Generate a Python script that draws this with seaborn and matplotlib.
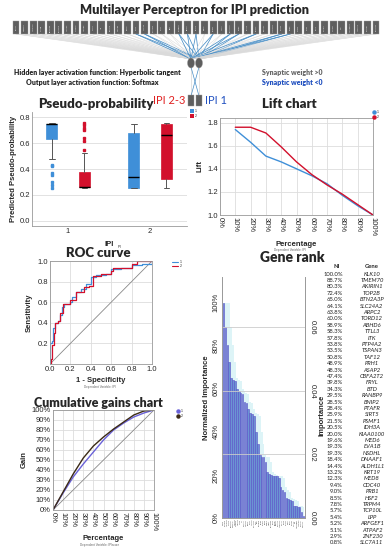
import numpy as np
import pandas as pd
import matplotlib
matplotlib.use("Agg")
import matplotlib.pyplot as plt
import seaborn as sns
from matplotlib.patches import Rectangle, Ellipse

# ------------------------------
# data
# ------------------------------
genes = ["KLK10", "TMEM70", "AKIRIN1", "TOP2B", "BTN2A3P", "SLC24A2", "ARPC2", "TORD12",
         "ABHD6", "TTLL3", "ITK", "PTP4A2", "TSPAN3", "TAF12", "PRH1", "ASAP2", "CBFA2T2",
         "FRYL", "BTD", "RANBP9", "BNIP2", "PTAFR", "SIRT5", "PSMF1", "IDH3A", "KIAA0100",
         "MED6", "EVA1B", "NSDHL", "DNAAF1", "ALDH1L1", "KRT19", "MED8", "CDC40", "PRB1",
         "HSF2", "TRPM4", "TCP10L", "LPP", "ARFGEF1", "ATPAF2", "ZNF230", "SLC7A11"]
ni = [100.0, 88.7, 80.3, 72.4, 65.0, 64.1, 63.8, 60.0, 58.9, 58.3, 57.8, 53.8, 53.5, 50.8,
      48.9, 48.3, 47.4, 39.8, 34.3, 29.5, 28.5, 28.4, 25.9, 21.5, 20.5, 20.0, 19.6, 19.3,
      19.3, 18.4, 14.4, 13.2, 12.3, 9.4, 9.0, 8.5, 7.8, 5.7, 5.4, 5.2, 5.1, 2.9, 0.8]
max_importance = 0.0677

# network: inputs with negative synaptic weight (blue lines)
neg_inputs = [14, 15, 19, 20, 21, 23, 25, 26, 28, 31, 32]

# pseudo-probability boxes: (IPI 1, cat 1), (IPI 1, cat 2), (IPI 2, cat 1), (IPI 2, cat 2)
box_pos = [0.8, 1.2, 1.8, 2.2]
box_med = [0.745, 0.26, 0.335, 0.665]
box_q1 = [0.63, 0.26, 0.25, 0.325]
box_q3 = [0.75, 0.375, 0.675, 0.75]
box_lo = [0.48, 0.255, 0.25, 0.255]
box_hi = [0.755, 0.52, 0.75, 0.755]
box_out = [[0.43, 0.42, 0.37, 0.35, 0.30, 0.28, 0.255],
           [0.55, 0.62, 0.64, 0.70, 0.72, 0.74, 0.755], [], []]

# lift chart
lift_pct = [10, 20, 30, 40, 50, 60, 70, 80, 90, 100]
lift_1 = [1.74, 1.63, 1.51, 1.46, 1.40, 1.34, 1.27, 1.17, 1.08, 1.00]
lift_2 = [1.76, 1.76, 1.71, 1.59, 1.46, 1.35, 1.26, 1.18, 1.09, 1.00]

# ROC curve
roc1_fpr = [0, 0, 0.02, 0.03, 0.05, 0.08, 0.10, 0.12, 0.14, 0.20, 0.22, 0.25, 0.30, 0.35,
            0.40, 0.45, 0.55, 0.60, 0.70, 0.80, 0.90, 1.0]
roc1_tpr = [0, 0.20, 0.22, 0.35, 0.40, 0.42, 0.48, 0.55, 0.58, 0.60, 0.65, 0.70, 0.73, 0.78,
            0.84, 0.86, 0.87, 0.92, 0.93, 0.96, 0.97, 1.0]
roc2_fpr = [0, 0.01, 0.02, 0.04, 0.05, 0.08, 0.10, 0.13, 0.20, 0.25, 0.33, 0.38, 0.42, 0.50,
            0.60, 0.62, 0.80, 0.85, 1.0]
roc2_tpr = [0, 0.05, 0.18, 0.30, 0.40, 0.42, 0.50, 0.58, 0.62, 0.70, 0.75, 0.76, 0.85, 0.87,
            0.90, 0.93, 0.97, 1.0, 1.0]

# cumulative gains
gain_pct = [0, 10, 20, 30, 40, 50, 60, 70, 80, 90, 100]
gain_1 = [0, 17, 33, 46, 58, 70, 80, 87, 93, 97, 100]
gain_2 = [0, 18, 36, 52, 64, 73, 81, 88, 95, 99, 100]

BLUE = "#3f8fd8"
RED = "#d2102c"
W, H = 388, 550

sns.set_style("white")
plt.rcParams["font.family"] = ["Liberation Sans", "DejaVu Sans"]

fig = plt.figure(figsize=(W / 100, H / 100), dpi=100)


def add_ax(l, t, r, b):
    return fig.add_axes([l / W, 1 - b / H, (r - l) / W, (b - t) / H])


def style(ax, size=5.5):
    ax.tick_params(labelsize=size, length=0, pad=1.5)
    for s in ax.spines.values():
        s.set_color("#999999")
        s.set_linewidth(0.6)


# ------------------------------
# Pseudo-probability boxplot
# ------------------------------
ax = add_ax(32, 112, 187, 226)
cols = [BLUE, RED, BLUE, RED]
for i in range(4):
    st = dict(med=box_med[i], q1=box_q1[i], q3=box_q3[i], whislo=box_lo[i],
              whishi=box_hi[i], fliers=box_out[i])
    ax.bxp([st], positions=[box_pos[i]], widths=0.14, patch_artist=True,
           boxprops=dict(facecolor=cols[i], edgecolor=cols[i], linewidth=0.5),
           medianprops=dict(color="black", linewidth=1.0),
           whiskerprops=dict(color="#555555", linewidth=0.7),
           capprops=dict(color="#555555", linewidth=0.7),
           flierprops=dict(marker="s", markersize=1.7, markerfacecolor=cols[i],
                           markeredgecolor=cols[i]))
ax.set_xlim(0.56, 2.45)
ax.set_ylim(-0.04, 0.84)
ax.set_xticks([1, 2])
ax.set_xticklabels(["1", "2"])
ax.set_yticks([0.0, 0.2, 0.4, 0.6, 0.8])
ax.set_yticklabels(["0.0", "0.2", "0.4", "0.6", "0.8"])
ax.yaxis.grid(True, color="#dddddd", linewidth=0.6)
ax.set_axisbelow(True)
for s in ["top", "right"]:
    ax.spines[s].set_visible(False)
style(ax)
ax.set_ylabel("Predicted Pseudo-probability", fontsize=5.5, fontweight="bold", labelpad=2)
ax.set_xlabel("IPI", fontsize=5.5, fontweight="bold", labelpad=4)

# ------------------------------
# Lift chart
# ------------------------------
ax = add_ax(220, 118, 373, 215)
lift_df = pd.DataFrame({"pct": lift_pct * 2, "lift": lift_1 + lift_2,
                        "cat": ["1"] * len(lift_pct) + ["2"] * len(lift_pct)})
sns.lineplot(data=lift_df, x="pct", y="lift", hue="cat", palette=[BLUE, RED],
             linewidth=1.0, legend=False, ax=ax)
ax.set_xlim(0, 100)
ax.set_ylim(1.0, 1.84)
ax.set_xticks(range(0, 101, 10))
ax.set_xticklabels([f"{v}%" for v in range(0, 101, 10)], rotation=-90)
ax.set_yticks([1.0, 1.2, 1.4, 1.6, 1.8])
ax.set_yticklabels(["1.0", "1.2", "1.4", "1.6", "1.8"])
ax.grid(True, color="#dddddd", linewidth=0.6)
style(ax)
ax.set_ylabel("Lift", fontsize=5.5, fontweight="bold", labelpad=3)
ax.set_xlabel("Percentage", fontsize=5.5, fontweight="bold", labelpad=3)

# ------------------------------
# ROC curve
# ------------------------------
ax = add_ax(50, 261, 152, 364)
roc_df = pd.DataFrame({"fpr": roc1_fpr + roc2_fpr, "tpr": roc1_tpr + roc2_tpr,
                       "cat": ["1"] * len(roc1_fpr) + ["2"] * len(roc2_fpr)})
ax.plot([0, 1], [0, 1], color="#888888", linewidth=0.6)
sns.lineplot(data=roc_df, x="fpr", y="tpr", hue="cat", palette=[BLUE, RED], sort=False,
             estimator=None, drawstyle="steps-post", linewidth=0.9, legend=False, ax=ax)
ax.set_xlim(0, 1)
ax.set_ylim(0, 1)
ax.set_xticks([0, 0.2, 0.4, 0.6, 0.8, 1.0])
ax.set_xticklabels(["0.0", "0.2", "0.4", "0.6", "0.8", "1.0"])
ax.set_yticks([0.2, 0.4, 0.6, 0.8, 1.0])
ax.set_yticklabels(["0.2", "0.4", "0.6", "0.8", "1.0"])
ax.grid(True, color="#dddddd", linewidth=0.6)
style(ax)
ax.set_ylabel("Sensitivity", fontsize=5.5, fontweight="bold", labelpad=3)
ax.set_xlabel("1 - Specificity", fontsize=5.5, fontweight="bold", labelpad=3)

# ------------------------------
# Cumulative gains chart
# ------------------------------
ax = add_ax(53, 410, 154, 510)
gain_df = pd.DataFrame({"pct": gain_pct * 2, "gain": gain_1 + gain_2,
                        "cat": ["1"] * len(gain_pct) + ["2"] * len(gain_pct)})
ax.plot([0, 100], [0, 100], color="#888888", linewidth=0.6)
sns.lineplot(data=gain_df, x="pct", y="gain", hue="cat", palette=["#6a62d8", "#3b2a16"],
             linewidth=1.0, legend=False, ax=ax)
ax.set_xlim(0, 100)
ax.set_ylim(0, 100)
ax.set_xticks(range(0, 101, 10))
ax.set_xticklabels([f"{v}%" for v in range(0, 101, 10)], rotation=-90)
ax.set_yticks(range(0, 101, 10))
ax.set_yticklabels([f"{v}%" for v in range(0, 101, 10)])
ax.grid(True, color="#dddddd", linewidth=0.6)
style(ax)
ax.set_ylabel("Gain", fontsize=5.5, fontweight="bold", labelpad=3)
ax.set_xlabel("Percentage", fontsize=5.5, fontweight="bold", labelpad=3)

# ------------------------------
# Gene rank
# ------------------------------
ax = add_ax(222, 277, 305, 518)
shade = [ni[max(i - 3, 0)] for i in range(len(ni))]
sns.barplot(x=genes, y=shade, color="#d9f7fb", width=1.0, linewidth=0, ax=ax)
sns.barplot(x=genes, y=ni, color="#5a90e4", width=0.85, edgecolor="#5a4fc8",
            linewidth=0.4, ax=ax)
ax.set_ylim(0, 112)
ax.set_xlim(-0.8, len(genes) - 0.2)
ax.set_yticks([0, 20, 40, 60, 80, 100])
ax.set_yticklabels(["0%", "20%", "40%", "60%", "80%", "100%"], rotation=90, va="center")
ax.set_xticks(range(len(genes)))
ax.set_xticklabels(genes, rotation=90)
ax.spines["top"].set_visible(False)
style(ax)
ax.tick_params(axis="x", labelsize=1.3, pad=1)
ax.set_ylabel("Normalized Importance", fontsize=5.5, fontweight="bold", labelpad=2)
ax2 = ax.twinx()
ax2.set_ylim(0, 112 * max_importance / 100)
ax2.set_yticks([0.0, 0.02, 0.04, 0.06])
ax2.set_yticklabels(["0.00", "0.02", "0.04", "0.06"], rotation=-90, va="center")
ax2.yaxis.grid(True, color="#cccccc", linewidth=0.6)
ax2.spines["top"].set_visible(False)
style(ax2)
ax2.tick_params(pad=3)

# ------------------------------
# overlay: network, titles, legends, table
# ------------------------------
bg = fig.add_axes([0, 0, 1, 1])
bg.set_xlim(0, W)
bg.set_ylim(H, 0)
bg.axis("off")
bg.patch.set_alpha(0)

n_in = len(genes)
in_x = np.linspace(16, 376, n_in)
hid_x = [191, 199]
out_x = [191, 199]
for i, x in enumerate(in_x):
    c, lw = ("#4a8fc6", 0.55) if i in neg_inputs else ("#dadada", 0.35)
    for hx in hid_x:
        bg.plot([x, hx], [34, 59], color=c, linewidth=lw, zorder=1)
bg.plot([hid_x[0], out_x[0]], [67, 96], color="#d4d4d4", linewidth=0.5, zorder=1)
bg.plot([hid_x[1], out_x[1]], [67, 96], color="#d4d4d4", linewidth=0.5, zorder=1)
bg.plot([hid_x[0], out_x[1]], [67, 96], color="#4a8fc6", linewidth=0.5, zorder=1)
bg.plot([hid_x[1], out_x[0]], [67, 96], color="#4a8fc6", linewidth=0.5, zorder=1)
for i, x in enumerate(in_x):
    bg.add_patch(Rectangle((x - 3.4, 21), 6.8, 13, facecolor="#5e5e5e", edgecolor="#9a9a9a",
                           linewidth=0.3, zorder=2))
    bg.text(x, 27.5, genes[i], rotation=90, fontsize=1.4, color="white", ha="center",
            va="center", zorder=3)
for hx in hid_x:
    bg.add_patch(Ellipse((hx, 63), 7, 10, facecolor="#5e5e5e", edgecolor="#9a9a9a",
                         linewidth=0.3, zorder=2))
for ox in out_x:
    bg.add_patch(Rectangle((ox - 3.4, 95), 6.8, 11, facecolor="#5e5e5e", edgecolor="#9a9a9a",
                           linewidth=0.3, zorder=2))

tf = dict(family=["Lato", "DejaVu Sans"], fontweight="heavy", ha="center", va="center")
bg.text(194, 10, "Multilayer Perceptron for IPI prediction", fontsize=9.2, **tf)
bg.text(97, 72, "Hidden layer activation function: Hyperbolic tangent", fontsize=5, **tf)
bg.text(92, 82, "Output layer activation function: Softmax", fontsize=5, **tf)
bg.text(292, 72, "Synaptic weight >0", fontsize=5, color="#666666", **tf)
bg.text(292, 82, "Synaptic weight <0", fontsize=5, color="#1f4fbf", **tf)
bg.text(169, 100, "IPI 2-3", fontsize=8, color="#e02020",
        family=["Lato", "DejaVu Sans"], ha="center", va="center")
bg.text(216, 100, "IPI 1", fontsize=8, color="#2050c0",
        family=["Lato", "DejaVu Sans"], ha="center", va="center")
bg.text(96, 104, "Pseudo-probability", fontsize=9.5, **tf)
bg.text(289, 104, "Lift chart", fontsize=9.5, **tf)
bg.text(98, 253, "ROC curve", fontsize=9.5, **tf)
bg.text(120, 246.5, "IPI", fontsize=2.5, color="#333333", ha="center", va="center")
bg.text(98, 403, "Cumulative gains chart", fontsize=9, **tf)
bg.text(292, 258, "Gene rank", fontsize=10, **tf)

dv = dict(fontsize=2.2, color="#666666", ha="center", va="center")
bg.text(290, 250, "Dependent Variable: IPI", **dv)
bg.text(100, 387, "Dependent Variable: IPI", **dv)
bg.text(100, 545, "Dependent Variable: IPIscore", **dv)

# small legends
for k, (c, lab) in enumerate([(BLUE, "1"), (RED, "2")]):
    y = 111 + k * 5
    bg.add_patch(Rectangle((190, y - 1.6), 3.6, 3.2, facecolor=c, edgecolor="none"))
    bg.text(195, y, lab, fontsize=2.5, va="center")
    bg.plot([374], [y + 1], marker="o", markersize=2.2, color=c)
    bg.text(376.5, y + 1, lab, fontsize=2.5, va="center")
    bg.plot([172, 178], [262 + k * 4] * 2, color=c, linewidth=0.8)
    bg.text(180, 262 + k * 4, lab, fontsize=2.5, va="center")
gcols = ["#6a62d8", "#3b2a16"]
for k in range(2):
    bg.plot([178], [411 + k * 5], marker="o", markersize=2.2, color=gcols[k])
    bg.text(180.5, 411 + k * 5, str(k + 1), fontsize=2.5, va="center")

# gene table
bg.text(322, 415, "Importance", rotation=90, fontsize=5.5, fontweight="bold",
        ha="center", va="center")
bg.text(337, 266, "NI", fontsize=4.2, fontweight="bold", ha="center", va="center",
        family=["Lato", "DejaVu Sans"])
bg.text(372, 266, "Gene", fontsize=4.2, fontweight="bold", ha="center", va="center",
        family=["Lato", "DejaVu Sans"])
for i, (g, v) in enumerate(zip(genes, ni)):
    y = 274 + i * 6.4
    bg.text(343, y, f"{v:.1f}%", fontsize=4.2, ha="right", va="center",
            family=["Lato", "DejaVu Sans"], color="#222222")
    bg.text(372, y, g, fontsize=4.2, style="italic", ha="center", va="center",
            family=["Lato", "DejaVu Sans"], color="#222222")

fig.savefig("out.png", dpi=100)
